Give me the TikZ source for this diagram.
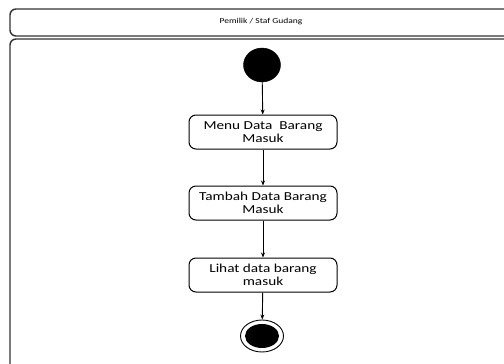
\documentclass[tikz,border=0pt]{standalone}
\usepackage{fontspec}
\setmainfont{Carlito}[FakeStretch=1.25]
\usetikzlibrary{arrows.meta,shapes.geometric}
\begin{document}
\begin{tikzpicture}[x=1pt,y=-1pt,
  lane/.style={draw=black!80,line width=1.4pt,rounded corners=6pt},
  activity/.style={draw=black,line width=1pt,rounded corners=7pt,minimum width=148pt,minimum height=34pt,align=center,font=\fontsize{12.2}{13}\selectfont,inner sep=1pt},
  flow/.style={draw=black,line width=0.9pt,-{Stealth[length=5pt,width=4pt]}}]
\useasboundingbox (0,0) rectangle (504,364);
% swimlane header and body, running past the right and bottom edges
\draw[lane] (520,9) -- (10,9) -- (10,36) -- (520,36);
\node[font=\fontsize{7.6}{8}\selectfont] (lanetitle) at (261,22) {Pemilik / Staf Gudang};
\draw[lane] (520,39) -- (10,39) -- (10,380);
% initial node
\node[draw,fill=black,ellipse,minimum width=37pt,minimum height=34pt,inner sep=0pt] (start) at (262,65) {};
% activities
\node[activity] (a1) at (263,132) {Menu Data\ \ Barang\\Masuk};
\node[activity] (a2) at (263,203) {Tambah Data Barang\\Masuk};
\node[activity] (a3) at (263,275) {Lihat data barang\\masuk};
% final node
\node[draw,line width=0.9pt,ellipse,minimum width=43pt,minimum height=32pt,inner sep=0pt] (finish) at (262,336) {};
\node[fill=black,ellipse,minimum width=34pt,minimum height=24pt,inner sep=0pt] (finishdot) at (finish.center) {};
% control flow
\draw[flow] (start) -- (a1);
\draw[flow] (a1) -- (a2);
\draw[flow] (a2) -- (a3);
\draw[flow] (a3) -- (finish);
\end{tikzpicture}
\end{document}
